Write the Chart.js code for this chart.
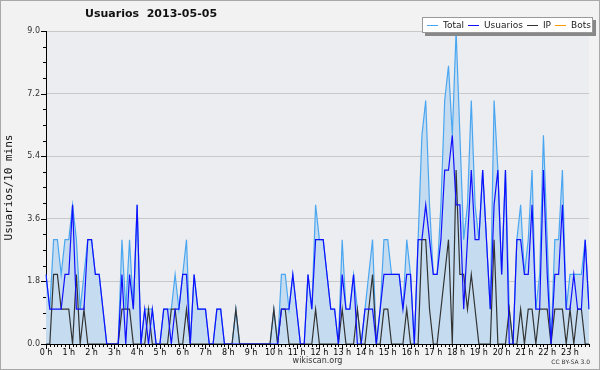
<!DOCTYPE html>
<html>
<head>
<meta charset="utf-8">
<script src="https://cdn.jsdelivr.net/npm/chart.js@4.4.0/dist/chart.umd.min.js"></script>
<style>
  html, body { margin: 0; padding: 0; background: #f2f2f2; }
  #wrap { position: relative; width: 600px; height: 370px; }
  #title { position: absolute; left: 85px; top: 7px; font: bold 11px "DejaVu Sans"; color: #111; white-space: pre; }
  #legend { position: absolute; left: 422px; top: 17px; width: 169px; height: 14px; background: #fff;
            border: 1px solid #999; box-shadow: 3px 3px 0 #888; display: flex; align-items: center;
            font: 9px "DejaVu Sans"; color: #222; }
  #legend span { display: flex; align-items: center; margin-left: 4px; }
  #legend i { display: inline-block; width: 11px; height: 1px; margin-right: 5px; }
  #cc { position: absolute; right: 10px; top: 358px; font: 6px "DejaVu Sans"; color: #333; }
</style>
</head>
<body>
<div id="wrap">
  <canvas id="chart" width="600" height="370"></canvas>
  <div id="title">Usuarios  2013-05-05</div>
  <div id="legend">
    <span><i style="background:#4aa6f0"></i>Total</span>
    <span><i style="background:#1010ff"></i>Usuarios</span>
    <span><i style="background:#333"></i>IP</span>
    <span><i style="background:#ff9900"></i>Bots</span>
  </div>
  <div id="cc">CC BY-SA 3.0</div>
</div>
<script>
// Hour tick labels
const hourLabels = ["0 h","1 h","2 h","3 h","4 h","5 h","6 h","7 h","8 h","9 h","10 h","11 h",
  "12 h","13 h","14 h","15 h","16 h","17 h","18 h","19 h","20 h","21 h","22 h","23 h"];

// 10-minute slots (144 per day)
const slots = [];
hourLabels.forEach((h, i) => {
  for (let m = 0; m < 60; m += 10) slots.push(i + ":" + String(m).padStart(2, "0"));
});

// Values per 10 mins
const total = [
  2,1,3,3,2,3, 3,4,3,1,2,3, 3,2,2,1,0,0, 0,0,3,1,3,1,
  4,0,1,1,1,0, 0,1,1,1,2,1, 2,3,0,2,1,1, 1,0,0,1,1,0,
  0,0,1,0,0,0, 0,0,0,0,0,0, 1,0,2,2,1,2, 1,0,0,2,1,4,
  3,3,2,1,1,0, 3,1,1,2,1,0, 1,2,3,0,1,3, 3,2,2,2,1,3,
  2,0,3,6,7,4, 2,2,4,7,8,6, 9,6,3,4,7,4, 3,5,3,1,7,5,
  2,5,1,0,3,4, 2,3,5,1,2,6, 3,0,3,3,5,1, 2,2,2,2,3,1
];
const usuarios = [
  2,1,1,1,1,2, 2,4,1,1,1,3, 3,2,2,1,0,0, 0,0,2,0,2,1,
  4,0,1,0,1,0, 0,1,1,0,1,1, 2,2,0,2,1,1, 1,0,0,1,1,0,
  0,0,0,0,0,0, 0,0,0,0,0,0, 0,0,1,1,1,2, 1,0,0,2,1,3,
  3,3,2,1,1,0, 2,1,1,2,0,0, 1,1,1,0,1,2, 2,2,2,2,1,2,
  2,0,3,3,4,3, 2,2,3,5,5,6, 4,4,1,3,5,3, 3,5,3,1,4,5,
  2,5,0,0,3,3, 2,2,4,1,1,5, 2,0,2,2,4,1, 1,2,1,1,3,1
];
const ip = [
  0,0,2,2,1,1, 1,0,2,0,1,0, 0,0,0,0,0,0, 0,0,1,1,1,0,
  0,0,0,1,0,0, 0,0,0,1,1,0, 0,1,0,0,0,0, 0,0,0,0,0,0,
  0,0,1,0,0,0, 0,0,0,0,0,0, 1,0,1,1,0,0, 0,0,0,0,0,1,
  0,0,0,0,0,0, 1,0,0,0,1,0, 0,1,2,0,0,1, 1,0,0,0,0,1,
  0,0,0,3,3,1, 0,0,1,2,3,0, 5,2,2,1,2,1, 0,0,0,0,3,0,
  0,0,1,0,0,1, 0,1,1,0,1,1, 1,0,1,1,1,0, 1,0,1,1,0,0
];
const bots = [
  0,0,0,0,0,0, 0,0,0,0,0,0, 0,0,0,0,0,0, 0,0,0,0,0,0,
  0,0,0,0,0,0, 0,0,0,0,0,0, 0,0,0,0,0,0, 0,0,0,0,0,0,
  0,0,0,0,0,0, 0,0,0,0,0,0, 0,0,0,0,0,0, 0,0,0,0,0,0,
  0,0,0,0,0,0, 0,0,0,0,0,0, 0,0,0,0,0,0, 0,0,0,0,0,0,
  0,0,0,0,0,0, 0,0,0,0,0,0, 0,0,0,0,0,0, 0,0,0,0,0,0,
  0,0,0,0,0,0, 0,0,0,0,0,0, 0,0,0,0,0,0, 0,0,0,0,0,0
];

// Backgrounds, border and small axis ticks
const decor = {
  id: "decor",
  beforeDraw(chart) {
    const { ctx, chartArea: a } = chart;
    ctx.save();
    ctx.fillStyle = "#f2f2f2";
    ctx.fillRect(0, 0, chart.width, chart.height);
    ctx.strokeStyle = "#a8a8a8";
    ctx.strokeRect(0.5, 0.5, chart.width - 1, chart.height - 1);
    ctx.fillStyle = "#ebedf0";
    ctx.fillRect(a.left, a.top, a.right - a.left, a.bottom - a.top);
    ctx.restore();
  },
  afterDraw(chart) {
    const { ctx, chartArea: a, scales: { x, y } } = chart;
    ctx.save();
    ctx.strokeStyle = "#000";
    ctx.lineWidth = 1;
    ctx.beginPath();
    for (let v = 0; v <= 9.001; v += 0.45) {
      const py = Math.round(y.getPixelForValue(v)) + 0.5;
      const major = Math.abs(v / 1.8 - Math.round(v / 1.8)) < 0.01;
      ctx.moveTo(a.left - (major ? 5 : 3), py);
      ctx.lineTo(a.left, py);
    }
    for (let i = 0; i < slots.length; i++) {
      const px = Math.round(x.getPixelForValue(i)) + 0.5;
      ctx.moveTo(px, a.bottom);
      ctx.lineTo(px, a.bottom + (i % 6 === 0 ? 5 : 3));
    }
    ctx.stroke();
    ctx.restore();
  }
};

const lineDefaults = { pointRadius: 0, borderWidth: 1.2, tension: 0, fill: false };

new Chart(document.getElementById("chart"), {
  type: "line",
  data: {
    labels: slots,
    datasets: [
      { ...lineDefaults, label: "Total", data: total, borderColor: "#4aa6f0", backgroundColor: "#c5dcf0", fill: "origin", order: 3 },
      { ...lineDefaults, label: "Usuarios", data: usuarios, borderColor: "#1010ff", order: 1 },
      { ...lineDefaults, label: "IP", data: ip, borderColor: "#333", order: 2 },
      { ...lineDefaults, label: "Bots", data: bots, borderColor: "#ff9900", order: 4 }
    ]
  },
  options: {
    responsive: false,
    animation: false,
    layout: { padding: { left: 0, right: 11, top: 31, bottom: 2 } },
    plugins: { legend: { display: false }, tooltip: { enabled: false } },
    scales: {
      x: {
        grid: { display: false, drawTicks: false },
        border: { color: "#000" },
        ticks: {
          autoSkip: false, maxRotation: 0, padding: 4, color: "#000",
          font: { family: "DejaVu Sans", size: 8 },
          callback: (v, i) => (i % 6 === 0 ? hourLabels[i / 6] : "")
        },
        title: { display: true, text: "wikiscan.org", color: "#333", font: { family: "DejaVu Sans", size: 8 }, padding: { top: 0, bottom: 2 } },
        afterFit: s => { s.height = 24; }
      },
      y: {
        min: 0, max: 9,
        grid: { color: "#c8c8c8", drawTicks: false },
        border: { color: "#000" },
        ticks: {
          stepSize: 1.8, padding: 6, color: "#333",
          font: { family: "DejaVu Sans", size: 8 },
          callback: v => v.toFixed(1)
        },
        title: { display: true, text: "Usuarios/10 mins", color: "#111", font: { family: "DejaVu Sans Mono", size: 11 }, padding: { top: 3, bottom: 0 } },
        afterFit: s => { s.width = 46; }
      }
    }
  },
  plugins: [decor]
});
</script>
</body>
</html>
